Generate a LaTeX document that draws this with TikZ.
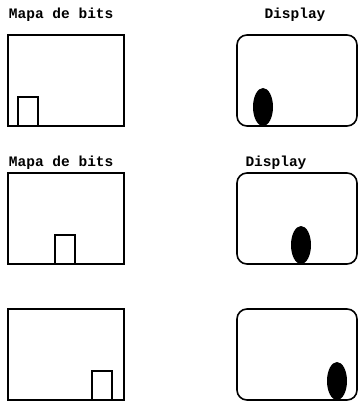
\documentclass[tikz,border=0pt]{standalone}
\usepackage{fontspec}
\setmonofont{Liberation Mono}
\usetikzlibrary{positioning,shapes.geometric}

\begin{document}
\begin{tikzpicture}[x=1pt,y=-1pt,
 every node/.style={inner sep=0pt,outer sep=0pt},
 bitmap/.style={draw,line width=1.6pt,minimum width=116pt,minimum height=91pt},
 screen/.style={bitmap,rounded corners=10pt,minimum width=120pt},
 sprite/.style={draw,line width=1.3pt,minimum width=20pt,minimum height=29pt},
 blob/.style={ellipse,fill=black,minimum width=20pt,minimum height=38pt},
 caption/.style={font=\ttfamily\bfseries\fontsize{14.5}{16}\selectfont}]
\useasboundingbox (0,0) rectangle (358,401);
% one row per frame: bitmap on the left, display on the right
\foreach \n/\top/\sx/\bx in {1/35/10/26,2/173/47/64,3/309/84/100}{
 \node[bitmap,anchor=north west] (map\n) at (8,\top) {};
 \node[sprite,anchor=south west] (spr\n) at ([xshift=\sx pt]map\n.south west) {};
 \node[screen,anchor=north west] (dsp\n) at (237,\top) {};
 \node[blob,anchor=south] (blb\n) at ([xshift=\bx pt]dsp\n.south west) {};
}
\node[caption,anchor=base west] (cap1) at (9,19) {Mapa de bits};
\node[caption,anchor=base] (scr1) at (295,19) {Display};
\node[caption,anchor=base west] (cap2) at (9,166) {Mapa de bits};
\node[caption,anchor=base] (scr2) at (276,166) {Display};
\end{tikzpicture}
\end{document}
